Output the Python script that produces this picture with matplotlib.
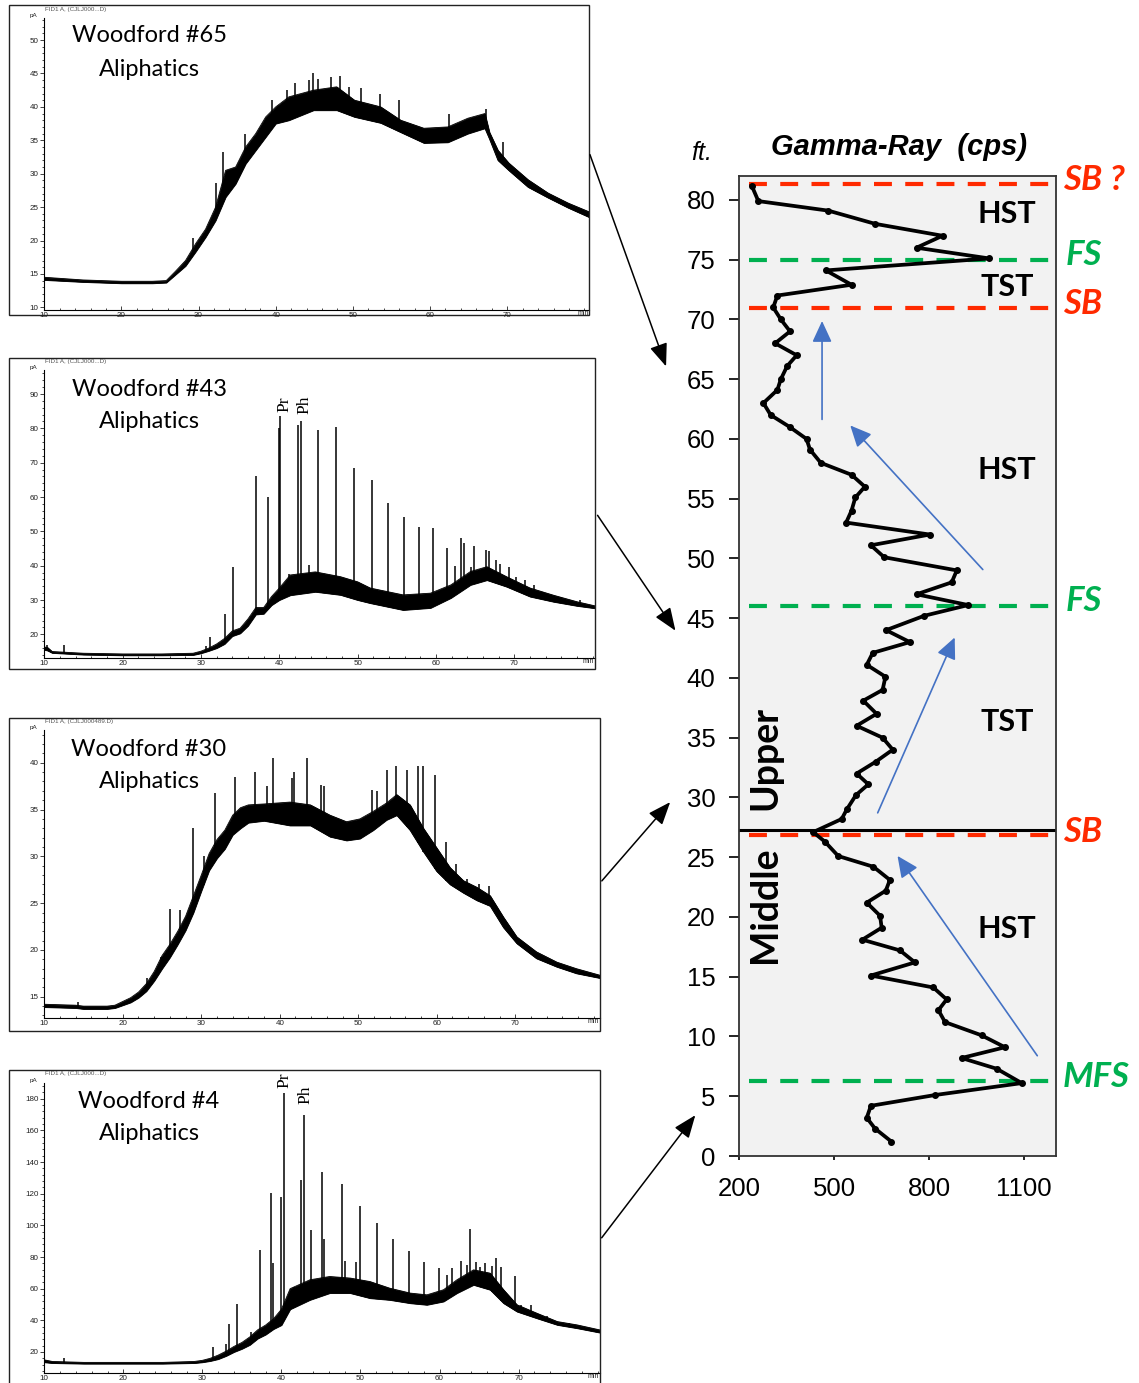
import numpy as np
import matplotlib
matplotlib.use("Agg")
import matplotlib.pyplot as plt
from matplotlib.patches import Rectangle, FancyArrowPatch
from matplotlib.ticker import MultipleLocator

W, H = 1139, 1383

# ---- gamma-ray log (depth in ft, gamma in cps) ----
depth = [1.2, 2.3, 3.2, 4.2, 5.1, 6.1, 7.3, 8.2, 9.1, 10.1, 11.2, 12.2, 13.1, 14.1, 15.1,
         16.2, 17.2, 18.1, 19.1, 20.1, 21.2, 22.2, 23.1, 24.2, 25.1, 26.3, 27.1, 28.2, 29.0,
         30.2, 31.1, 32.0, 33.0, 34.0, 35.0, 36.0, 37.0, 38.1, 39.0, 40.1, 41.1, 42.1, 43.0,
         44.0, 45.2, 46.1, 47.0, 48.0, 49.0, 50.1, 51.1, 52.0, 53.0, 54.0, 55.1, 56.0, 57.0,
         58.0, 59.1, 60.0, 61.0, 62.0, 63.0, 64.1, 65.0, 66.1, 67.0, 68.0, 69.0, 70.0, 71.0,
         72.0, 72.9, 74.1, 75.1, 76.0, 77.0, 78.0, 79.1, 79.9, 81.2]
gamma = [681, 629, 603, 616, 818, 1092, 1013, 902, 1039, 965, 850, 829, 855, 813, 616,
         755, 708, 589, 650, 645, 603, 663, 676, 624, 513, 471, 434, 524, 540,
         569, 608, 571, 632, 685, 653, 571, 634, 592, 653, 662, 603, 622, 739,
         664, 784, 923, 760, 871, 887, 658, 616, 802, 538, 555, 567, 597, 555,
         458, 424, 413, 360, 300, 277, 321, 332, 352, 382, 314, 361, 332, 308,
         321, 555, 474, 990, 760, 842, 629, 482, 261, 240]

sb_depth = [81.35, 70.95, 26.85]
sb_label = ["SB ?", "SB", "SB"]
fs_depth = [74.95, 46.0, 6.25]
fs_label = ["FS", "FS", "MFS"]
unit_boundary = 27.27

tract_label = ["HST", "TST", "HST", "TST", "HST"]
tract_depth = [78.8, 72.7, 57.4, 36.3, 19.0]

# blue trend arrows (cps, ft): tail -> tip
trend_tail = [(462, 61.4), (975, 48.9), (634, 28.5), (1146, 8.2)]
trend_tip = [(462, 70.1), (545, 61.3), (884, 43.6), (695, 25.3)]

# ---- chromatograms (retention time min, signal pA) ----
t1 = [10, 15, 20, 24, 25.8, 27, 28.3, 29.6, 30.9, 32.2, 33.5, 34.8, 36.1, 37.4, 38.7, 40,
      41.7, 44.9, 47.9, 50.2, 53.6, 56.2, 59.2, 62.3, 64.9, 67.1, 67.7, 68.8, 70.2, 72.7,
      75.3, 77.9, 80.6]
lo1 = [14.1, 13.8, 13.6, 13.6, 13.7, 14.9, 16.2, 18.3, 20.5, 23.0, 26.5, 28.5, 31.5, 33.5,
       35.5, 37.5, 38.0, 39.5, 39.5, 38.5, 37.6, 36.2, 34.6, 34.7, 36.0, 36.8, 35.2, 32.0,
       30.5, 28.0, 26.4, 24.9, 23.5]
up1 = [14.5, 14.1, 13.9, 13.9, 14.0, 15.4, 17.0, 19.5, 21.7, 25.0, 30.5, 31.0, 34.0, 36.0,
       38.5, 40.0, 41.5, 42.5, 43.0, 41.0, 40.0, 38.0, 36.8, 37.0, 38.3, 39.0, 36.2, 33.5,
       31.6, 29.1, 27.1, 25.6, 24.3]
pk1_t = [29.3, 32.3, 33.2, 36.0, 39.5, 41.5, 42.5, 44.3, 44.8, 45.5, 47.2, 48.3, 49.5,
         51.0, 53.5, 56.0, 62.5, 67.2, 69.5]
pk1_h = [20.4, 28.6, 33.3, 36.0, 41.0, 42.5, 43.5, 44.0, 45.0, 44.2, 44.5, 44.6, 43.0,
         42.8, 42.0, 41.0, 39.0, 39.7, 34.7]

t2 = [10, 10.4, 11, 15, 20, 25, 29, 30, 31, 32, 33, 34, 35, 36, 37, 38, 39, 40, 41.4, 44.6,
      47.8, 50, 51.6, 55.8, 59.3, 61.9, 64.4, 66.5, 69, 72, 75, 78, 80.3]
lo2 = [15.5, 15.3, 14.6, 14.1, 13.9, 13.9, 14.0, 14.5, 15.2, 16.0, 17.2, 19.5, 20.3, 22.5,
       25.8, 26.0, 28.5, 30.0, 31.4, 32.4, 31.5, 30.0, 29.1, 27.1, 27.7, 30.6, 34.4, 35.8,
       33.9, 31.0, 29.5, 28.3, 27.6]
up2 = [16.3, 16.2, 15.0, 14.5, 14.3, 14.3, 14.5, 15.1, 16.0, 17.2, 18.8, 21.0, 21.8, 24.5,
       27.8, 27.8, 31.0, 33.5, 37.3, 38.2, 36.8, 35.3, 33.5, 31.5, 32.0, 34.4, 38.3, 39.7,
       36.8, 33.5, 31.4, 29.5, 28.3]
pk2_t = [10.3, 12.5, 30.6, 31.1, 33.1, 34.1, 37.0, 38.5, 39.9, 40.1, 41.2, 42.4, 42.8,
         43.8, 44.9, 47.3, 49.55, 51.8, 53.9, 55.9, 57.8, 59.6, 61.4, 62.4, 63.2, 63.6,
         64.5, 64.9, 66.4, 66.8, 67.6, 68.2, 69.3, 70.2, 71.4, 72.5, 73.6, 76.0, 78.4]
pk2_h = [16.8, 17.0, 16.5, 19.3, 25.9, 39.7, 66.2, 60.1, 80.1, 83.6, 37.5, 81.1, 82.1,
         40.2, 79.5, 80.4, 68.6, 64.9, 58.3, 54.1, 51.2, 50.9, 45.1, 40.0, 48.2, 46.5,
         39.7, 45.7, 44.6, 44.3, 41.7, 40.4, 39.7, 36.8, 35.8, 34.4, 32.4, 31.0, 30.0]

t3 = [10, 14, 15, 18, 19, 20, 21, 22, 23, 24, 25, 26, 27, 28, 29, 30, 31, 32, 33, 34, 35,
      36, 38, 41.3, 43.9, 46.4, 48.5, 50.2, 51.9, 53.6, 54.9, 56.6, 58.3, 60, 61.7, 63.4,
      65.1, 66.8, 68.5, 70.2, 72.7, 75.3, 77.8, 80.8]
lo3 = [13.9, 13.8, 13.7, 13.7, 13.8, 14.1, 14.4, 14.9, 15.6, 16.7, 18.0, 19.2, 20.6, 22.1,
       24.0, 26.3, 28.5, 29.8, 30.8, 32.3, 33.0, 33.6, 33.8, 33.3, 33.3, 32.1, 31.7, 31.9,
       32.8, 33.9, 34.4, 32.8, 30.5, 28.4, 27.0, 26.1, 25.3, 24.7, 22.4, 20.7, 19.1, 18.2,
       17.5, 17.0]
up3 = [14.2, 14.1, 14.0, 14.0, 14.1, 14.5, 14.9, 15.5, 16.4, 17.7, 19.4, 20.6, 22.0, 23.6,
       25.8, 28.0, 30.3, 31.8, 32.8, 34.4, 35.2, 35.5, 35.6, 35.8, 35.5, 34.4, 33.7, 34.0,
       34.8, 35.7, 36.6, 35.5, 33.0, 30.9, 28.8, 27.4, 26.7, 25.8, 23.5, 21.4, 19.8, 18.7,
       18.0, 17.3]
pk3_t = [14.3, 23.1, 24.9, 26.0, 27.3, 28.9, 30.3, 31.7, 34.3, 36.8, 38.4, 39.1, 41.6,
         41.8, 43.5, 45.2, 45.6, 51.8, 52.4, 53.6, 54.8, 56.2, 57.6, 58.3, 59.8, 61.2,
         62.5, 63.9, 65.4, 66.6]
pk3_h = [14.4, 17.0, 19.3, 24.4, 24.3, 33.0, 30.0, 36.8, 38.5, 39.0, 37.5, 40.5, 38.4,
         39.0, 40.5, 37.6, 37.5, 37.1, 37.0, 39.2, 39.7, 39.2, 39.7, 39.7, 38.7, 31.5,
         29.2, 27.6, 27.1, 26.8]

t4 = [10, 11, 15, 20, 25, 29, 30, 31, 32, 33, 34, 35, 36, 37, 38, 39, 40, 41.1, 43.6, 46.1,
      48.7, 51.2, 53.7, 56.3, 58.4, 60.5, 62.2, 64.3, 66.4, 68.1, 69.8, 72.3, 74.9, 77.4,
      80.3]
lo4 = [13.5, 13.0, 12.6, 12.6, 12.6, 13.0, 13.5, 14.3, 15.5, 17.5, 20.0, 22.0, 24.5, 28.5,
       31.0, 34.5, 37.0, 47.0, 52.9, 57.2, 57.2, 54.0, 52.9, 50.8, 49.8, 51.9, 57.2, 62.4,
       59.3, 50.8, 45.5, 41.3, 37.1, 35.0, 32.2]
up4 = [15.0, 14.0, 13.4, 13.4, 13.4, 14.0, 14.7, 16.0, 18.0, 20.5, 23.5, 26.0, 29.5, 34.0,
       37.0, 41.0, 47.0, 60.0, 65.6, 67.7, 66.7, 64.5, 60.3, 57.2, 56.1, 59.3, 65.6, 71.9,
       69.8, 59.3, 49.8, 44.5, 39.2, 37.1, 33.9]
pk4_t = [12.5, 31.3, 33.0, 33.4, 34.4, 36.1, 37.3, 38.7, 38.9, 40.0, 40.3, 41.6, 42.5,
         42.9, 43.8, 45.1, 45.4, 47.6, 48.1, 49.4, 49.9, 52.1, 54.1, 56.1, 58.0, 59.9,
         61.0, 61.6, 62.7, 63.5, 63.9, 64.6, 65.1, 65.7, 66.7, 67.1, 67.8, 69.5, 70.3,
         71.6, 72.6, 73.6, 76.4]
pk4_h = [16, 23, 25, 37.7, 50.4, 32.9, 84.2, 120.5, 76, 117.7, 183.8, 61, 128.5,
         170, 96.8, 133.8, 91.4, 126.2, 77.2, 77, 112.5, 101.5, 91.6, 83.5, 77, 73,
         68.8, 73, 77.2, 75, 97.7, 77, 74, 76, 74.5, 79.3, 73.5, 68, 49.6,
         49.6, 44, 42.5, 38.4]

plt.rcParams["font.family"] = ["Liberation Sans", "DejaVu Sans"]

fig = plt.figure(figsize=(W / 100, H / 100), dpi=100)


def px_rect(l, t, r, b):
    return [l / W, 1 - b / H, (r - l) / W, (b - t) / H]


def fpt(x, y):
    return (x / W, 1 - y / H)


def chrom(box, rect, xlim, ylim, t, lo, up, pk_t, pk_h, major, minor, name, header):
    l, tp, r, b = box
    fig.add_artist(Rectangle(fpt(l, b), (r - l) / W, (b - tp) / H, transform=fig.transFigure,
                             fill=False, ec="#222222", lw=1.0))
    ax = fig.add_axes(px_rect(*rect))
    ax.fill_between(t, lo, up, color="black", lw=0.6)
    ax.plot(t, lo, color="black", lw=0.6)
    ax.plot(t, up, color="black", lw=0.6)
    base = np.interp(pk_t, t, lo)
    ax.vlines(pk_t, base, pk_h, color="black", lw=1.1)
    ax.set_xlim(*xlim)
    ax.set_ylim(*ylim)
    ax.patch.set_alpha(0)
    for s in ["top", "right"]:
        ax.spines[s].set_visible(False)
    for s in ["left", "bottom"]:
        ax.spines[s].set_linewidth(0.8)
    ax.set_xticks(range(10, 80, 10))
    ax.xaxis.set_minor_locator(MultipleLocator(2))
    ax.yaxis.set_major_locator(MultipleLocator(major))
    ax.yaxis.set_minor_locator(MultipleLocator(minor))
    ax.tick_params(axis="x", which="major", direction="in", length=3, width=0.6,
                   labelsize=5.8, pad=1.5, colors="#222222")
    ax.tick_params(axis="x", which="minor", direction="in", length=1.8, width=0.5)
    ax.tick_params(axis="y", which="major", direction="out", length=3, width=0.6,
                   labelsize=5.8, pad=1, colors="#222222")
    ax.tick_params(axis="y", which="minor", direction="out", length=1.5, width=0.5)
    ax.text(xlim[1] - 0.8, ylim[0], "min", fontsize=5, ha="center", va="top",
            color="#222222")
    ax.text(-0.012, 1.0, "pA", transform=ax.transAxes, fontsize=4.5, ha="right",
            va="bottom", color="#222222")
    fig.text(*fpt(l + 36, tp + 4), header, fontsize=4.5, color="#555555", va="center")
    cx = l + 140
    fig.text(*fpt(cx, tp + 31), "Woodford " + name, family="Lato", fontsize=17,
             ha="center", va="center")
    fig.text(*fpt(cx, tp + 64), "Aliphatics", family="Lato", fontsize=17,
             ha="center", va="center")
    return ax


chrom((9, 5, 589, 315), (44.3, 18, 589, 310), (10, 80.6), (9.6, 53.3),
      t1, lo1, up1, pk1_t, pk1_h, 5, 1, "#65", "FID1 A, (CJLJ000...D)")
chrom((9, 358, 595, 669), (44.3, 370, 595, 657.7), (10, 80.3), (13.2, 97),
      t2, lo2, up2, pk2_t, pk2_h, 10, 2, "#43", "FID1 A, (CJLJ000...D)")
chrom((9, 718, 600, 1031), (44.3, 730, 600, 1018.3), (10, 80.8), (12.7, 43.5),
      t3, lo3, up3, pk3_t, pk3_h, 5, 1, "#30", "FID1 A, (CJLJ000489.D)")
chrom((9, 1070, 600, 1390), (44.3, 1083, 600, 1373.3), (10, 80.3), (6.5, 190),
      t4, lo4, up4, pk4_t, pk4_h, 20, 4, "#4", "FID1 A, (CJLJ000...D)")

# Pr / Ph labels
for (x, y, s) in [(284, 404, "Pr"), (304, 405, "Ph"), (284, 1080, "Pr"), (305, 1095, "Ph")]:
    fig.text(*fpt(x, y), s, family="Liberation Serif", fontsize=12.5, rotation=90,
             ha="center", va="center",
             bbox=dict(fc="white", ec="none", pad=0.5) if y == 1080 else None)

# ---- gamma-ray panel ----
ax = fig.add_axes(px_rect(739, 176, 1056, 1156))
ax.set_facecolor("#f2f2f2")
ax.set_xlim(200, 1200)
ax.set_ylim(0, 82)
for s in ax.spines.values():
    s.set_linewidth(1.3)
    s.set_color("#333333")
ax.set_xticks([200, 500, 800, 1100])
ax.set_yticks(range(0, 81, 5))
ax.tick_params(axis="y", length=7, width=1.2, labelsize=18.5, pad=10)
ax.tick_params(axis="x", length=3, width=1.2, labelsize=18.5, pad=12)

ax.axhline(unit_boundary, color="black", lw=2.2)
for d in sb_depth:
    ax.plot([231, 1205], [d, d], color="#ff2a00", lw=3, ls=(0, (4.3, 3.2)), clip_on=False)
for d in fs_depth:
    ax.plot([231, 1205], [d, d], color="#00b050", lw=3, ls=(0, (4.3, 3.2)), clip_on=False)

ax.plot(gamma, depth, color="black", lw=2.7, marker="o", ms=4, zorder=5)

for d, s in zip(sb_depth, sb_label):
    ax.text(1221, d + 0.3, s, color="#ff2a00", family="Lato", fontsize=25,
            fontweight="bold", fontstyle="italic", ha="left", va="center")
for d, s in zip(fs_depth, fs_label):
    ax.text(1221 if s == "MFS" else 1231, d + 0.4, s, color="#00b050", family="Lato",
            fontsize=25, fontweight="bold", fontstyle="italic", ha="left", va="center")
for d, s in zip(tract_depth, tract_label):
    ax.text(1045, d, s, family="Lato", fontsize=22, fontweight="bold",
            ha="center", va="center")
ax.text(282, 33.3, "Upper", family="Lato", fontsize=27, fontweight="bold",
        rotation=90, ha="center", va="center")
ax.text(282, 21.0, "Middle", family="Lato", fontsize=27, fontweight="bold",
        rotation=90, ha="center", va="center")

for tail, tip in zip(trend_tail, trend_tip):
    ax.add_patch(FancyArrowPatch(tail, tip, arrowstyle="-|>,head_length=1.3,head_width=0.6",
                                 mutation_scale=10, color="#4472c4", lw=1.2, zorder=6))

fig.text(*fpt(899, 147), "Gamma-Ray  (cps)", fontsize=21, fontweight="bold",
         fontstyle="italic", ha="center", va="center")
fig.text(*fpt(702, 153), "ft.", fontsize=18, fontstyle="italic", ha="center", va="center")

# arrows linking chromatograms to the log
links = [((589, 152), (667, 369)), ((596, 513), (677, 633)),
         ((600, 883), (672, 800)), ((600, 1240), (697, 1113))]
for a, b in links:
    fig.add_artist(FancyArrowPatch(fpt(*a), fpt(*b), transform=fig.transFigure,
                                   arrowstyle="-|>,head_length=1.4,head_width=0.55",
                                   mutation_scale=10, color="black", lw=1.1))

fig.savefig("out.png", dpi=100)
